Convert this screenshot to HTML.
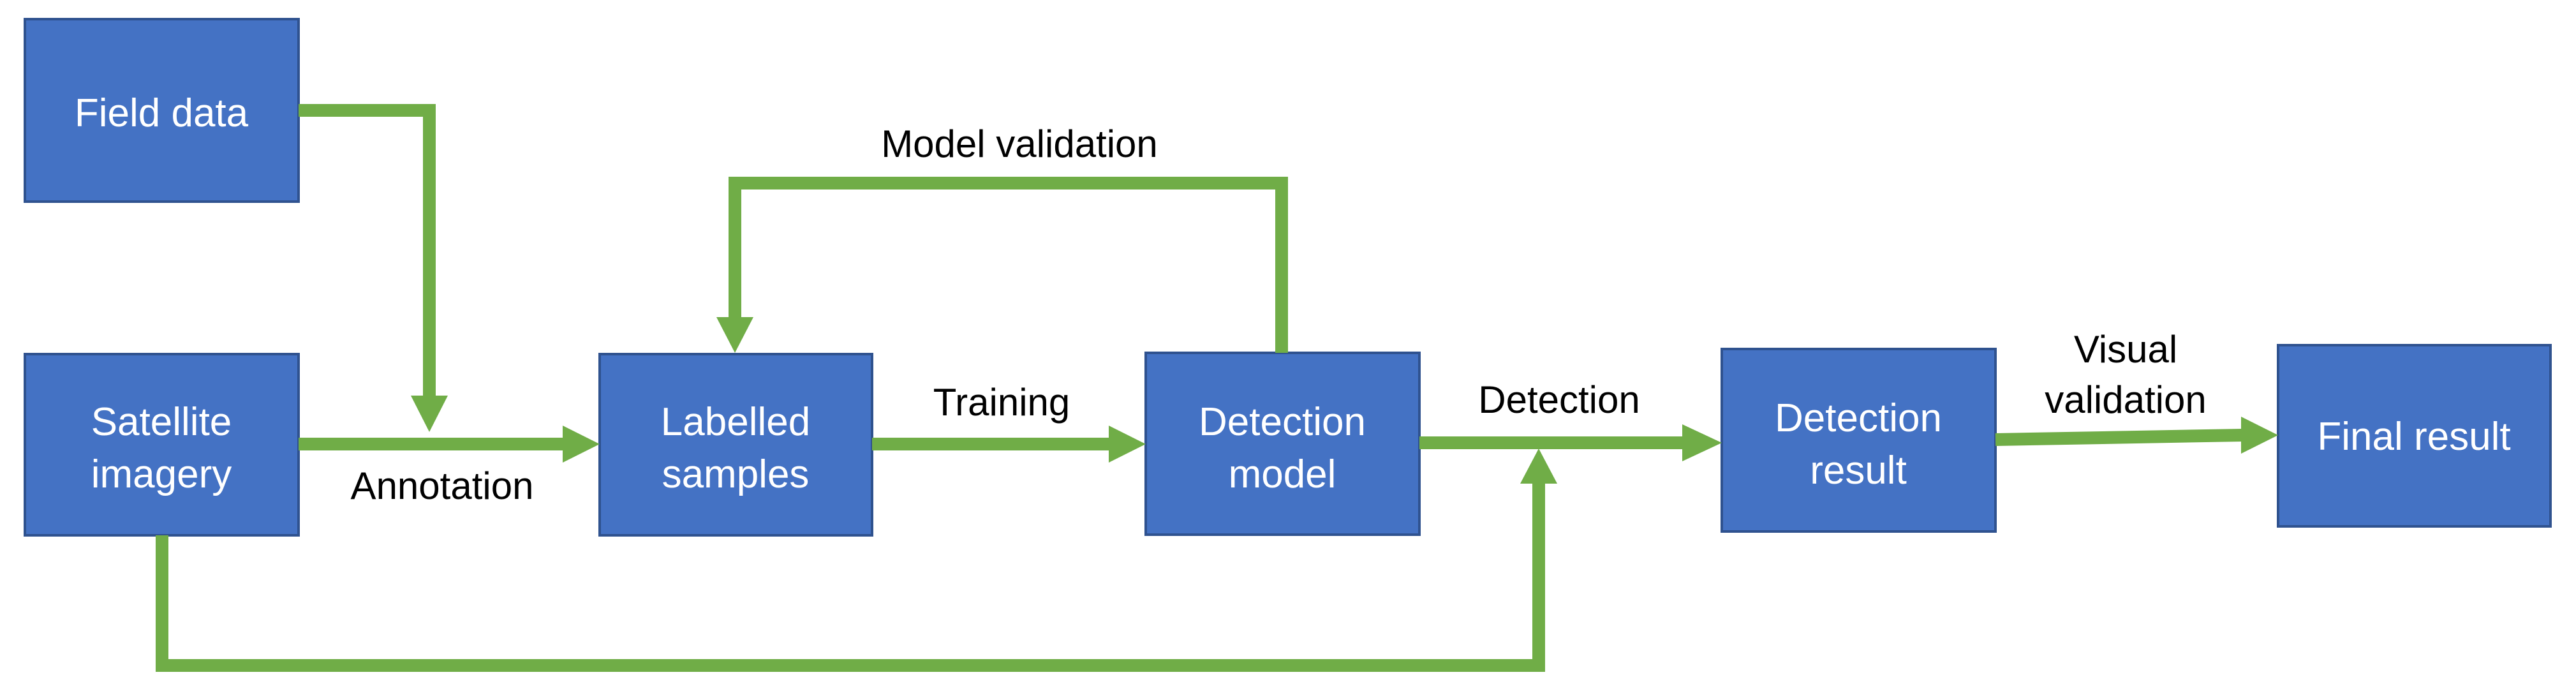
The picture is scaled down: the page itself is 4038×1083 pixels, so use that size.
<!DOCTYPE html>
<html><head><meta charset="utf-8"><style>html,body{margin:0;padding:0;background:#fff}svg{display:block}</style></head>
<body>
<svg width="4038" height="1083" viewBox="0 0 4038 1083" xmlns="http://www.w3.org/2000/svg" font-family="'Liberation Sans', sans-serif">
<g fill="#4472C4" stroke="#2F528F" stroke-width="4">
<rect x="39" y="30" width="429" height="286"/>
<rect x="39" y="555" width="429" height="284"/>
<rect x="940" y="555" width="427" height="284"/>
<rect x="1796" y="553" width="429" height="285"/>
<rect x="2699" y="547" width="429" height="286"/>
<rect x="3571" y="541" width="427" height="284"/>
</g>
<g fill="none" stroke="#70AD47" stroke-width="20" stroke-linejoin="miter">
<polyline points="468,173 673,173 673,625"/>
<line x1="468" y1="696" x2="885" y2="696"/>
<polyline points="2009,553 2009,287 1152,287 1152,500"/>
<line x1="1367" y1="696" x2="1740" y2="696"/>
<polyline points="254,839 254,1043 2412,1043 2412,755"/>
<line x1="2225" y1="694" x2="2640" y2="694"/>
<line x1="3128" y1="689" x2="3515" y2="682"/>
</g>
<g fill="#70AD47">
<polygon points="644,620 702,620 673,677"/>
<polygon points="882,667 940,696 882,725"/>
<polygon points="1123,497 1181,497 1152,553"/>
<polygon points="1738,667 1796,696 1738,725"/>
<polygon points="2383,758 2441,758 2412,703"/>
<polygon points="2637,665 2699,694 2637,723"/>
<polygon points="3513,653 3571,682 3513,711"/>
</g>
<g fill="#fff" font-size="62" text-anchor="middle">
<text x="253" y="198">Field data</text>
<text x="253" y="682">Satellite</text>
<text x="253" y="764">imagery</text>
<text x="1153" y="682">Labelled</text>
<text x="1153" y="764">samples</text>
<text x="2010" y="682">Detection</text>
<text x="2010" y="764">model</text>
<text x="2913" y="676">Detection</text>
<text x="2913" y="758">result</text>
<text x="3784" y="705">Final result</text>
</g>
<g fill="#000" font-size="60" text-anchor="middle">
<text x="693" y="782">Annotation</text>
<text x="1598" y="246">Model validation</text>
<text x="1570" y="651">Training</text>
<text x="2444" y="647">Detection</text>
<text x="3332" y="568">Visual</text>
<text x="3332" y="647">validation</text>
</g>
</svg>
</body></html>
